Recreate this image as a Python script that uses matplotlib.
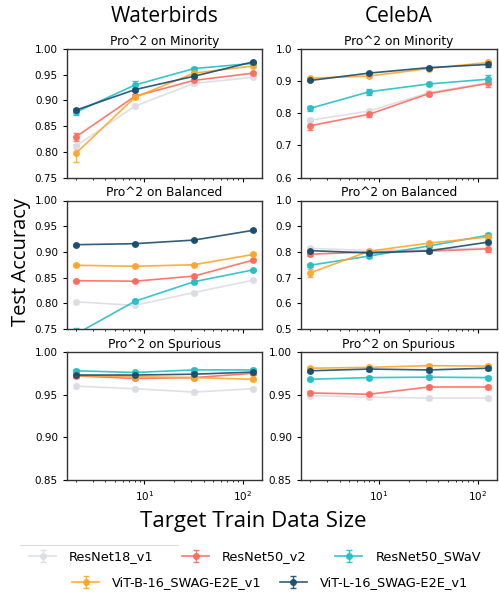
import matplotlib
matplotlib.use("Agg")
import matplotlib.pyplot as plt
from matplotlib.lines import Line2D

x_sizes = [2, 8, 32, 128]
models = ["ResNet18_v1", "ResNet50_v2", "ResNet50_SWaV", "ViT-B-16_SWAG-E2E_v1", "ViT-L-16_SWAG-E2E_v1"]
colors = ["#dcdce6", "#ff6b5e", "#22bfc6", "#ffa629", "#194c6e"]

# Waterbirds
wb_minority = {
    "ResNet18_v1": [0.811, 0.889, 0.933, 0.945],
    "ResNet50_v2": [0.829, 0.908, 0.939, 0.953],
    "ResNet50_SWaV": [0.877, 0.930, 0.962, 0.972],
    "ViT-B-16_SWAG-E2E_v1": [0.797, 0.906, 0.953, 0.967],
    "ViT-L-16_SWAG-E2E_v1": [0.881, 0.921, 0.947, 0.975],
}
wb_minority_err = {
    "ResNet18_v1": [0.005, 0.004, 0.003, 0.002],
    "ResNet50_v2": [0.008, 0.004, 0.003, 0.003],
    "ResNet50_SWaV": [0.006, 0.007, 0.003, 0.002],
    "ViT-B-16_SWAG-E2E_v1": [0.017, 0.004, 0.003, 0.002],
    "ViT-L-16_SWAG-E2E_v1": [0.003, 0.003, 0.002, 0.002],
}
wb_balanced = {
    "ResNet18_v1": [0.803, 0.796, 0.821, 0.845],
    "ResNet50_v2": [0.844, 0.843, 0.853, 0.884],
    "ResNet50_SWaV": [0.740, 0.804, 0.842, 0.865],
    "ViT-B-16_SWAG-E2E_v1": [0.874, 0.872, 0.875, 0.895],
    "ViT-L-16_SWAG-E2E_v1": [0.914, 0.916, 0.923, 0.942],
}
wb_balanced_err = {
    "ResNet18_v1": [0.002, 0.002, 0.002, 0.002],
    "ResNet50_v2": [0.002, 0.002, 0.003, 0.002],
    "ResNet50_SWaV": [0.012, 0.004, 0.003, 0.002],
    "ViT-B-16_SWAG-E2E_v1": [0.002, 0.002, 0.002, 0.002],
    "ViT-L-16_SWAG-E2E_v1": [0.002, 0.002, 0.002, 0.002],
}
wb_spurious = {
    "ResNet18_v1": [0.960, 0.957, 0.953, 0.957],
    "ResNet50_v2": [0.972, 0.969, 0.970, 0.975],
    "ResNet50_SWaV": [0.978, 0.976, 0.979, 0.979],
    "ViT-B-16_SWAG-E2E_v1": [0.9725, 0.971, 0.970, 0.968],
    "ViT-L-16_SWAG-E2E_v1": [0.973, 0.973, 0.974, 0.9765],
}
# CelebA
ca_minority = {
    "ResNet18_v1": [0.778, 0.807, 0.864, 0.895],
    "ResNet50_v2": [0.761, 0.797, 0.861, 0.893],
    "ResNet50_SWaV": [0.815, 0.867, 0.891, 0.906],
    "ViT-B-16_SWAG-E2E_v1": [0.909, 0.916, 0.939, 0.958],
    "ViT-L-16_SWAG-E2E_v1": [0.902, 0.925, 0.942, 0.952],
}
ca_minority_err = {
    "ResNet18_v1": [0.008, 0.006, 0.005, 0.006],
    "ResNet50_v2": [0.014, 0.008, 0.007, 0.011],
    "ResNet50_SWaV": [0.008, 0.009, 0.005, 0.012],
    "ViT-B-16_SWAG-E2E_v1": [0.004, 0.004, 0.004, 0.005],
    "ViT-L-16_SWAG-E2E_v1": [0.003, 0.004, 0.003, 0.009],
}
ca_balanced = {
    "ResNet18_v1": [0.814, 0.805, 0.810, 0.815],
    "ResNet50_v2": [0.791, 0.800, 0.803, 0.812],
    "ResNet50_SWaV": [0.748, 0.784, 0.823, 0.865],
    "ViT-B-16_SWAG-E2E_v1": [0.718, 0.803, 0.834, 0.858],
    "ViT-L-16_SWAG-E2E_v1": [0.805, 0.796, 0.804, 0.838],
}
ca_balanced_err = {
    "ResNet18_v1": [0.006, 0.005, 0.005, 0.006],
    "ResNet50_v2": [0.006, 0.005, 0.006, 0.014],
    "ResNet50_SWaV": [0.006, 0.007, 0.005, 0.009],
    "ViT-B-16_SWAG-E2E_v1": [0.014, 0.006, 0.006, 0.007],
    "ViT-L-16_SWAG-E2E_v1": [0.004, 0.005, 0.004, 0.005],
}
ca_spurious = {
    "ResNet18_v1": [0.949, 0.947, 0.946, 0.946],
    "ResNet50_v2": [0.952, 0.9505, 0.959, 0.959],
    "ResNet50_SWaV": [0.968, 0.970, 0.9705, 0.970],
    "ViT-B-16_SWAG-E2E_v1": [0.981, 0.982, 0.984, 0.9835],
    "ViT-L-16_SWAG-E2E_v1": [0.978, 0.980, 0.979, 0.981],
}

panel_titles = ["Pro^2 on Minority", "Pro^2 on Balanced", "Pro^2 on Spurious"]
wb_ylims = [(0.75, 1.00), (0.75, 1.00), (0.85, 1.00)]
ca_ylims = [(0.6, 1.0), (0.5, 1.0), (0.85, 1.00)]
wb_yticks = [[0.75, 0.80, 0.85, 0.90, 0.95, 1.00], [0.75, 0.80, 0.85, 0.90, 0.95, 1.00], [0.85, 0.90, 0.95, 1.00]]
ca_yticks = [[0.6, 0.7, 0.8, 0.9, 1.0], [0.5, 0.6, 0.7, 0.8, 0.9, 1.0], [0.85, 0.90, 0.95, 1.00]]
wb_fmt = ["%.2f", "%.2f", "%.2f"]
ca_fmt = ["%.1f", "%.1f", "%.2f"]

fig = plt.figure(figsize=(4.99, 5.94), dpi=100)

W, H = 499.0, 594.0
col_x = [(67, 195), (301, 196)]
row_y = [(49, 177.5), (200.5, 329), (352, 480)]

datasets = [
    (wb_minority, wb_minority_err), (wb_balanced, wb_balanced_err), (wb_spurious, None),
]
datasets_ca = [
    (ca_minority, ca_minority_err), (ca_balanced, ca_balanced_err), (ca_spurious, None),
]

title_font = ["Open Sans", "DejaVu Sans"]

handles = None
for c, (dsets, ylims, yticks, fmts) in enumerate([(datasets, wb_ylims, wb_yticks, wb_fmt),
                                                   (datasets_ca, ca_ylims, ca_yticks, ca_fmt)]):
    for r in range(3):
        x0, w = col_x[c]
        top, bot = row_y[r]
        ax = fig.add_axes([x0 / W, 1 - bot / H, w / W, (bot - top) / H])
        vals, errs = dsets[r]
        conts = []
        for m, col in zip(models, colors):
            e = errs[m] if errs is not None else [0.002] * 4
            cont = ax.errorbar(x_sizes, vals[m], yerr=e, color=col, marker="o", markersize=4,
                               linewidth=1.2, elinewidth=1.0, capsize=2, alpha=0.9)
            conts.append(cont)
        if handles is None:
            handles = conts
        ax.set_xscale("log")
        ax.set_ylim(*ylims[r])
        ax.set_yticks(yticks[r])
        ax.set_yticklabels([fmts[r] % t for t in yticks[r]])
        ax.tick_params(labelsize=7.5, length=3)
        ax.tick_params(which="minor", length=1.5)
        ax.set_title(panel_titles[r], fontsize=8.7, pad=3)
        if r < 2:
            ax.tick_params(axis="x", which="both", labelbottom=False)
        for s in ax.spines.values():
            s.set_linewidth(1.0)
            s.set_color("#333333")

fig.text((67 + 97.5) / W, 1 - 17 / H, "Waterbirds", ha="center", va="center", fontsize=15, family=title_font)
fig.text((301 + 98) / W, 1 - 17 / H, "CelebA", ha="center", va="center", fontsize=15, family=title_font)
fig.text(21 / W, 1 - 262 / H, "Test Accuracy", ha="center", va="center", rotation=90, fontsize=14.5, family=title_font)
fig.text(253 / W, 1 - 522 / H, "Target Train Data Size", ha="center", va="center", fontsize=16, family=title_font)

fig.legend(handles[:3], models[:3], loc="center left", bbox_to_anchor=(20 / W, 1 - 557 / H),
           ncol=3, frameon=False, fontsize=9.3, handlelength=2.1, columnspacing=2.2,
           handletextpad=1.0, borderpad=0.2)
fig.legend(handles[3:], models[3:], loc="center left", bbox_to_anchor=(63 / W, 1 - 583 / H),
           ncol=2, frameon=False, fontsize=9.3, handlelength=2.1, columnspacing=1.4,
           handletextpad=1.0, borderpad=0.2)
fig.add_artist(Line2D([20 / W, 178 / W], [1 - 545 / H, 1 - 545 / H], color="#dddddd", linewidth=0.8,
                      transform=fig.transFigure))

fig.savefig("out.png", dpi=100)
